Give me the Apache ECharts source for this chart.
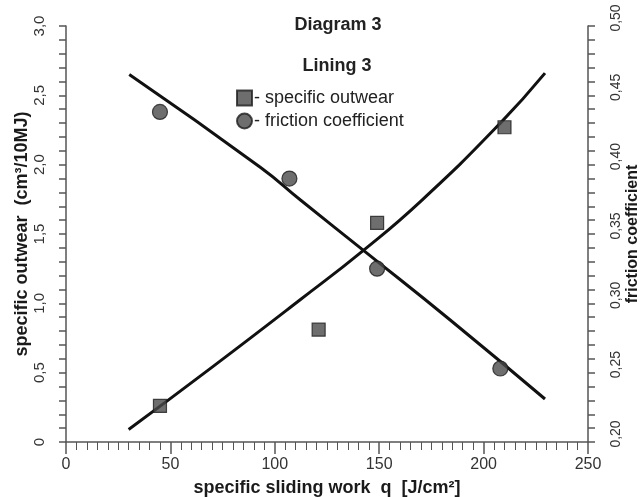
<!DOCTYPE html>
<html>
<head>
<meta charset="utf-8">
<script src="https://cdn.jsdelivr.net/npm/echarts@6/dist/echarts.min.js"></script>
<style>html,body{margin:0;padding:0;background:#fff}#c{width:642px;height:497px}</style>
</head>
<body>
<div id="c"></div>
<script>
// ---- data ----
const outwearQ = [45, 121, 149, 210];
const outwear = [0.26, 0.81, 1.58, 2.27];
const frictionQ = [45, 107, 149, 208];
const friction = [0.438, 0.390, 0.325, 0.253];
const outwearFitQ = [30, 70, 112, 142.6, 170.5, 207.9, 229.4];
const outwearFit = [0.09, 0.54, 1.024, 1.384, 1.745, 2.298, 2.66];
const frictionFitQ = [30.3, 93.2, 112.3, 142.6, 184, 229.4];
const frictionFit = [0.465, 0.398, 0.3745, 0.338, 0.288, 0.231];
const titleText = 'Diagram 3';
const subText = 'Lining 3';

const pair = (xs, ys) => xs.map((x, i) => [x, ys[i]]);
const fmt = (v, d) => (v === 0 ? '0' : v.toFixed(d).replace('.', ','));

const chart = echarts.init(document.getElementById('c'), null, {renderer: 'canvas'});
const font = 'Liberation Sans, Arial, sans-serif';
const axisColor = '#555';
chart.setOption({
  animation: false,
  backgroundColor: '#fff',
  textStyle: {fontFamily: font},
  title: [
    {text: titleText, left: 333, top: 11, textAlign: 'center',
     textStyle: {fontSize: 18, fontWeight: 'bold', color: '#222', fontFamily: font}},
    {text: subText, left: 332, top: 52, textAlign: 'center',
     textStyle: {fontSize: 18, fontWeight: 'bold', color: '#222', fontFamily: font}}
  ],
  legend: {
    data: ['specific outwear', 'friction coefficient'],
    orient: 'vertical', left: 231, top: 84, itemGap: 5,
    itemWidth: 15, itemHeight: 15,
    formatter: '- {name}',
    textStyle: {fontSize: 18, color: '#222', fontFamily: font, padding: [0, 0, 0, -3]}
  },
  grid: {left: 66, right: 54, top: 26, bottom: 55, containLabel: false, outerBoundsMode: 'none'},
  xAxis: {
    type: 'value', min: 0, max: 250, interval: 50,
    name: 'specific sliding work  q  [J/cm²]', nameLocation: 'middle', nameGap: 37,
    nameMoveOverlap: false,
    nameTextStyle: {fontSize: 18, fontWeight: 'bold', color: '#1a1a1a', fontFamily: font},
    axisLine: {show: true, lineStyle: {color: axisColor, width: 1.5}},
    axisTick: {show: true, length: 12, lineStyle: {color: axisColor, width: 1.5}},
    minorTick: {show: true, splitNumber: 10, length: 8, lineStyle: {color: axisColor, width: 1}},
    axisLabel: {fontSize: 16, color: '#333', margin: 15, fontFamily: font},
    splitLine: {show: false}
  },
  yAxis: [
    {
      type: 'value', min: 0, max: 3, interval: 0.5, position: 'left',
      name: 'specific outwear  (cm³/10MJ)', nameLocation: 'middle', nameGap: 35,
      nameMoveOverlap: false,
      nameTextStyle: {fontSize: 18, fontWeight: 'bold', color: '#1a1a1a', fontFamily: font},
      axisLine: {show: true, lineStyle: {color: axisColor, width: 1.5}},
      axisTick: {show: true, length: 7, lineStyle: {color: axisColor, width: 1.5}},
      minorTick: {show: true, splitNumber: 5, length: 7, lineStyle: {color: axisColor, width: 1.5}},
      axisLabel: {fontSize: 15, color: '#333', rotate: 90, margin: 19, fontFamily: font,
                  formatter: v => fmt(v, 1)},
      splitLine: {show: false}
    },
    {
      type: 'value', min: 0.2, max: 0.5, interval: 0.05, position: 'right',
      name: 'friction coefficient', nameLocation: 'middle', nameGap: 37,
      nameMoveOverlap: false,
      nameTextStyle: {fontSize: 16, fontWeight: 'bold', color: '#1a1a1a', fontFamily: font},
      axisLine: {show: true, lineStyle: {color: axisColor, width: 1.5}},
      axisTick: {show: true, length: 7, lineStyle: {color: axisColor, width: 1.5}},
      minorTick: {show: true, splitNumber: 5, length: 7, lineStyle: {color: axisColor, width: 1.5}},
      axisLabel: {fontSize: 14, color: '#333', rotate: 90, margin: 21, fontFamily: font,
                  padding: [0, 0, 0, 16],
                  formatter: v => fmt(v, 2)},
      splitLine: {show: false}
    }
  ],
  series: [
    {
      name: 'outwear fit', type: 'line', yAxisIndex: 0, smooth: true, symbol: 'none',
      data: pair(outwearFitQ, outwearFit),
      lineStyle: {color: '#111', width: 3}, z: 2
    },
    {
      name: 'friction fit', type: 'line', yAxisIndex: 1, smooth: true, symbol: 'none',
      data: pair(frictionFitQ, frictionFit),
      lineStyle: {color: '#111', width: 3}, z: 2
    },
    {
      name: 'specific outwear', type: 'scatter', yAxisIndex: 0, symbol: 'rect', symbolSize: 13,
      data: pair(outwearQ, outwear),
      itemStyle: {color: '#4a4a4a', borderColor: '#1e1e1e', borderWidth: 1.2}, z: 3
    },
    {
      name: 'friction coefficient', type: 'scatter', yAxisIndex: 1, symbol: 'circle', symbolSize: 15,
      data: pair(frictionQ, friction),
      itemStyle: {color: '#4a4a4a', borderColor: '#1e1e1e', borderWidth: 1.2}, z: 3
    }
  ]
});
</script>
</body>
</html>
